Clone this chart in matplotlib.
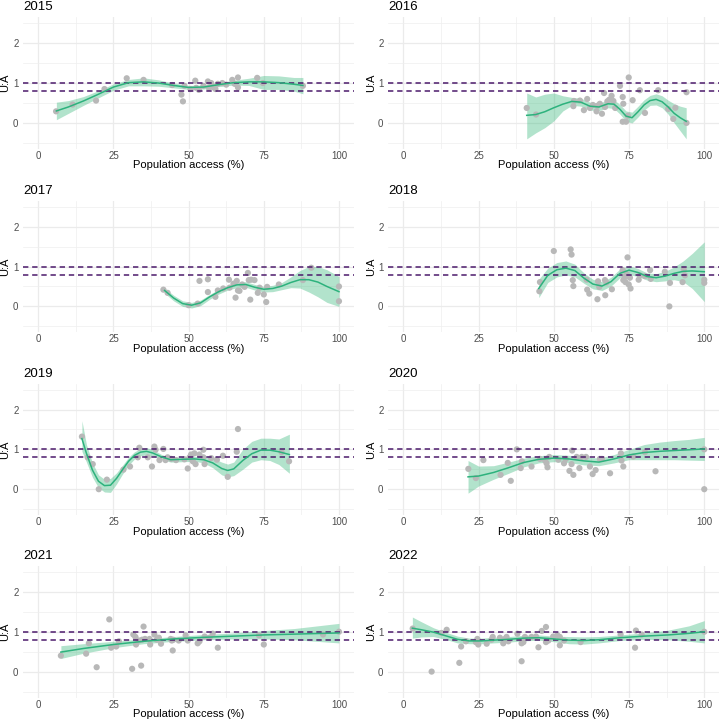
import matplotlib
matplotlib.use('Agg')
import matplotlib.pyplot as plt

plt.rcParams['font.family'] = ['Liberation Sans', 'DejaVu Sans']

years = ['2015', '2016', '2017', '2018', '2019', '2020', '2021', '2022']

# scatter points (population access %, U:A)
px15 = [5.9, 11.4, 19.2, 22, 29.4, 35, 44.5, 47.6, 48.1, 48.6, 50.6, 52.2, 52.5, 53.4, 54.9, 56.4, 56.7, 57.5, 58, 58.9, 59.7, 61.2, 62.5, 64.5, 65.3, 66.4, 66.4, 72.8, 74.7, 88]
py15 = [0.29, 0.46, 0.56, 0.85, 1.12, 1.08, 0.95, 0.71, 0.54, 0.93, 0.85, 1.06, 0.88, 0.83, 0.93, 1.04, 0.88, 1.0, 0.9, 0.85, 0.98, 1.0, 0.96, 1.08, 0.98, 1.14, 0.89, 1.13, 1.0, 0.93]

px16 = [41, 44.1, 56.5, 56.7, 58.7, 60, 61.1, 62, 63, 64.2, 64.5, 65.3, 66, 66.7, 67, 67.8, 68.4, 69.2, 69.8, 70.4, 72, 72.9, 73.1, 72.9, 74, 74.9, 74.6, 76.2, 78.6, 80.3, 84.7, 88, 89.7, 90.4, 94.1, 94.1]
py16 = [0.375, 0.21, 0.42, 0.55, 0.56, 0.32, 0.6, 0.375, 0.45, 0.29, 0.43, 0.48, 0.23, 0.75, 0.4, 0.54, 0.58, 0.68, 0.55, 0.375, 0.93, 0.65, 0.48, 0.03, 0.03, 1.14, 0.18, 0.57, 0.82, 0.25, 0.82, 0.35, 0.1, 0.38, 0.77, 0.0]

px17 = [41.6, 43, 50, 53, 53.6, 56.4, 56.4, 58.9, 59.7, 61.5, 63.4, 63.6, 64.9, 65.6, 66, 66.4, 66.9, 67.8, 68.6, 69.7, 70, 70.5, 70.8, 71.9, 73, 73.6, 75, 75.8, 76.1, 80, 88, 90.8, 100, 100]
py17 = [0.42, 0.34, 0.03, 0.07, 0.64, 0.68, 0.36, 0.24, 0.4, 0.45, 0.67, 0.47, 0.57, 0.22, 0.64, 0.4, 0.39, 0.55, 0.49, 0.84, 0.66, 0.17, 0.67, 0.66, 0.34, 0.47, 0.3, 0.11, 0.49, 0.55, 0.66, 0.97, 0.5, 0.13]

px18 = [45.2, 45.4, 50, 55.6, 55.9, 56.3, 56.5, 60.9, 61.1, 61.8, 64.5, 64.7, 65.1, 67, 67.1, 67.5, 69.3, 72.9, 73.1, 73.6, 73.8, 74.2, 74.5, 74.9, 75.3, 75.5, 78.2, 78.6, 80.3, 82, 82.2, 86.9, 88.4, 88.6, 92.8, 93.2, 93.6, 100, 100]
py18 = [0.38, 0.61, 1.39, 1.43, 1.30, 0.66, 0.51, 0.67, 0.42, 0.32, 0.18, 0.63, 0.49, 0.66, 0.28, 0.6, 0.43, 0.91, 0.66, 0.74, 0.61, 0.81, 1.23, 0.55, 0.72, 0.45, 0.67, 0.78, 0.76, 0.91, 0.69, 0.87, 0.0, 0.59, 0.61, 0.92, 0.78, 0.67, 0.59]

px19 = [14.5, 16.4, 18.1, 20.1, 22.8, 28.3, 30.5, 33.1, 33.6, 36.4, 37.8, 38.6, 39, 40.3, 41.6, 42.3, 43, 44.2, 45.8, 48.6, 49.7, 50.3, 50.8, 51.4, 51.9, 52.3, 53.6, 54.9, 54.9, 55.3, 57.5, 59.4, 61.4, 63, 66, 66.4, 80.9, 83.4]
py19 = [1.32, 0.80, 0.63, 0.0, 0.24, 0.49, 0.57, 0.8, 1.04, 0.8, 0.57, 1.07, 0.99, 0.73, 1.01, 0.73, 0.8, 0.76, 0.73, 0.75, 0.52, 0.8, 0.87, 0.7, 0.9, 0.63, 0.87, 0.8, 0.99, 0.63, 0.78, 0.74, 0.84, 0.31, 0.94, 1.51, 0.93, 0.7]

px20 = [21.6, 24.1, 26.6, 32.3, 34.7, 35.7, 37.7, 39, 39.4, 42.6, 45.4, 47.1, 47.6, 47.9, 48.5, 51.5, 53.4, 54, 55.2, 55.9, 56.1, 56.5, 57.6, 58.5, 59.3, 60.7, 62, 62.9, 63.9, 65.3, 66, 68.7, 72.3, 72.5, 73.1, 76.4, 80.3, 83.8, 100, 100]
py20 = [0.51, 0.28, 0.73, 0.36, 0.66, 0.21, 1.0, 0.53, 0.7, 0.57, 0.76, 0.72, 0.65, 0.55, 0.81, 0.74, 0.65, 0.76, 0.46, 0.63, 0.97, 0.36, 0.81, 0.53, 0.81, 0.81, 0.57, 0.38, 0.48, 0.76, 0.76, 0.4, 0.9, 0.72, 0.57, 0.82, 0.93, 0.45, 1.0, 0.0]

px21 = [7.5, 15.9, 16.8, 19.4, 23.6, 24.2, 25.9, 26.8, 31.2, 31.6, 32.3, 32.5, 33.4, 34.2, 34.5, 35, 35.5, 37, 37.2, 38.6, 39.4, 40.1, 40.8, 44, 44.4, 44.7, 44.9, 46.7, 49, 49.7, 53, 53.6, 55.3, 57, 58, 59.7, 73.4, 75, 94.7, 100]
py21 = [0.40, 0.45, 0.71, 0.11, 1.31, 0.6, 0.63, 0.76, 0.07, 0.93, 0.87, 0.68, 0.78, 0.15, 0.8, 1.13, 0.82, 0.82, 0.68, 0.93, 0.8, 0.85, 0.7, 0.82, 0.78, 0.53, 0.8, 0.78, 0.91, 0.78, 0.71, 0.76, 0.88, 0.85, 0.95, 0.6, 0.91, 0.68, 0.93, 1.0]

px22 = [3.1, 9.4, 12.7, 14.4, 18.6, 19.2, 20.8, 24.1, 24.6, 24.9, 27.7, 29.3, 29.7, 32.1, 33.2, 33.8, 34.3, 34.9, 37.9, 39.3, 39.3, 39.9, 40.4, 42.6, 44.1, 44.9, 46, 47.4, 47.4, 48.2, 49.8, 51.2, 52, 52, 53.4, 58.9, 72.2, 77, 77.3, 79.2, 100]
py22 = [1.08, 0.0, 0.97, 1.05, 0.22, 0.63, 0.76, 0.74, 0.82, 0.68, 0.7, 0.8, 0.87, 0.85, 0.71, 0.82, 0.87, 0.76, 0.95, 0.26, 0.71, 0.74, 0.87, 0.87, 0.88, 0.61, 1.02, 1.12, 0.74, 0.78, 0.88, 0.91, 0.87, 0.66, 0.78, 0.74, 0.93, 0.6, 1.03, 0.93, 1.0]

# smoothed fit and confidence band
cx15 = [6, 10, 15, 20, 25, 30, 35, 40, 45, 50, 55, 60, 65, 70, 75, 80, 85, 88]
cy15 = [0.30, 0.40, 0.55, 0.72, 0.90, 1.01, 1.03, 1.00, 0.94, 0.89, 0.90, 0.96, 1.01, 1.03, 1.03, 1.01, 0.97, 0.94]
lo15 = [0.08, 0.24, 0.44, 0.63, 0.82, 0.93, 0.93, 0.92, 0.88, 0.84, 0.85, 0.91, 0.95, 0.94, 0.84, 0.84, 0.80, 0.73]
hi15 = [0.52, 0.56, 0.66, 0.81, 0.98, 1.09, 1.13, 1.08, 1.00, 0.94, 0.95, 1.01, 1.07, 1.12, 1.19, 1.18, 1.14, 1.14]

cx16 = [41, 44, 47, 50, 53, 56, 59, 62, 65, 68, 70, 72, 74, 76, 78, 80, 82, 84, 86, 88, 90, 92, 94]
cy16 = [0.19, 0.21, 0.28, 0.38, 0.47, 0.54, 0.52, 0.42, 0.40, 0.48, 0.47, 0.34, 0.17, 0.13, 0.28, 0.45, 0.56, 0.59, 0.53, 0.40, 0.24, 0.13, 0.04]
lo16 = [-0.40, -0.25, -0.12, 0.05, 0.30, 0.44, 0.42, 0.32, 0.31, 0.38, 0.36, 0.22, 0.04, 0.00, 0.15, 0.32, 0.44, 0.45, 0.38, 0.22, 0.00, -0.20, -0.40]
hi16 = [0.75, 0.65, 0.72, 0.75, 0.68, 0.64, 0.62, 0.52, 0.49, 0.58, 0.58, 0.46, 0.30, 0.27, 0.42, 0.58, 0.69, 0.73, 0.68, 0.57, 0.48, 0.42, 0.38]

cx17 = [42, 45, 48, 51, 54, 57, 60, 63, 66, 69, 72, 75, 78, 81, 84, 87, 90, 93, 96, 100]
cy17 = [0.40, 0.21, 0.07, 0.03, 0.09, 0.24, 0.37, 0.47, 0.54, 0.55, 0.48, 0.43, 0.45, 0.51, 0.60, 0.67, 0.67, 0.61, 0.50, 0.37]
lo17 = [0.33, 0.14, 0.00, -0.04, 0.02, 0.18, 0.31, 0.41, 0.47, 0.48, 0.41, 0.36, 0.37, 0.42, 0.47, 0.46, 0.36, 0.24, 0.10, 0.00]
hi17 = [0.46, 0.28, 0.14, 0.10, 0.16, 0.30, 0.43, 0.53, 0.61, 0.62, 0.55, 0.50, 0.53, 0.60, 0.74, 0.90, 1.00, 1.00, 0.92, 0.75]

cx18 = [45, 48, 51, 54, 57, 60, 63, 66, 69, 72, 75, 78, 81, 84, 87, 90, 93, 96, 100]
cy18 = [0.45, 0.78, 0.92, 0.96, 0.90, 0.71, 0.56, 0.51, 0.62, 0.83, 0.91, 0.85, 0.75, 0.72, 0.76, 0.83, 0.88, 0.89, 0.87]
lo18 = [0.22, 0.60, 0.74, 0.79, 0.74, 0.58, 0.44, 0.40, 0.51, 0.72, 0.80, 0.75, 0.66, 0.62, 0.64, 0.67, 0.62, 0.45, 0.12]
hi18 = [0.68, 0.96, 1.10, 1.14, 1.06, 0.84, 0.68, 0.62, 0.73, 0.94, 1.02, 0.95, 0.84, 0.82, 0.88, 0.99, 1.14, 1.33, 1.62]

cx19 = [14.5, 16, 18, 20, 22, 24, 26, 28, 30, 32, 34, 36, 38, 41, 44, 48, 52, 55, 58, 61, 63, 65, 68, 71, 74, 77, 80, 83.5]
cy19 = [1.27, 0.90, 0.48, 0.20, 0.09, 0.10, 0.27, 0.49, 0.70, 0.85, 0.93, 0.95, 0.91, 0.81, 0.74, 0.75, 0.76, 0.74, 0.66, 0.52, 0.47, 0.51, 0.72, 0.89, 0.98, 0.98, 0.94, 0.87]
lo19 = [0.95, 0.68, 0.30, 0.04, -0.07, -0.08, 0.13, 0.38, 0.60, 0.76, 0.84, 0.86, 0.83, 0.75, 0.68, 0.69, 0.70, 0.66, 0.54, 0.36, 0.31, 0.34, 0.50, 0.68, 0.74, 0.72, 0.62, 0.40]
hi19 = [1.72, 1.12, 0.66, 0.36, 0.25, 0.27, 0.41, 0.60, 0.80, 0.94, 1.02, 1.04, 1.00, 0.87, 0.80, 0.81, 0.82, 0.82, 0.78, 0.68, 0.63, 0.68, 1.00, 1.20, 1.28, 1.28, 1.26, 1.38]

cx20 = [21.5, 25, 30, 35, 40, 45, 50, 55, 60, 65, 70, 75, 80, 85, 90, 95, 100]
cy20 = [0.31, 0.33, 0.42, 0.54, 0.67, 0.75, 0.78, 0.76, 0.71, 0.68, 0.76, 0.86, 0.92, 0.95, 0.97, 0.99, 1.01]
lo20 = [-0.10, 0.08, 0.25, 0.40, 0.56, 0.66, 0.69, 0.67, 0.61, 0.59, 0.66, 0.74, 0.74, 0.74, 0.74, 0.73, 0.72]
hi20 = [0.72, 0.58, 0.59, 0.68, 0.78, 0.84, 0.87, 0.85, 0.81, 0.78, 0.87, 1.00, 1.12, 1.18, 1.22, 1.25, 1.30]

cx21 = [7.5, 15, 25, 35, 45, 55, 65, 75, 85, 100]
cy21 = [0.49, 0.58, 0.68, 0.76, 0.82, 0.86, 0.89, 0.92, 0.94, 0.97]
lo21 = [0.33, 0.46, 0.60, 0.70, 0.76, 0.80, 0.82, 0.82, 0.80, 0.72]
hi21 = [0.65, 0.70, 0.76, 0.82, 0.88, 0.93, 0.97, 1.03, 1.08, 1.21]

cx22 = [3, 6, 10, 14, 18, 22, 26, 30, 35, 40, 45, 50, 55, 60, 65, 72, 80, 88, 95, 100]
cy22 = [1.09, 1.05, 0.99, 0.90, 0.81, 0.77, 0.77, 0.79, 0.81, 0.84, 0.85, 0.82, 0.79, 0.78, 0.80, 0.85, 0.89, 0.92, 0.96, 1.00]
lo22 = [0.84, 0.87, 0.88, 0.81, 0.72, 0.70, 0.70, 0.72, 0.74, 0.77, 0.79, 0.75, 0.70, 0.69, 0.72, 0.78, 0.81, 0.80, 0.76, 0.72]
hi22 = [1.37, 1.25, 1.10, 0.99, 0.89, 0.84, 0.84, 0.86, 0.88, 0.91, 0.92, 0.89, 0.88, 0.87, 0.88, 0.92, 0.97, 1.04, 1.15, 1.28]

ref_lines = [0.8, 1.0]
x_ticks = [0, 25, 50, 75, 100]
y_ticks = [0, 1, 2]

panels = [
    (px15, py15, cx15, cy15, lo15, hi15),
    (px16, py16, cx16, cy16, lo16, hi16),
    (px17, py17, cx17, cy17, lo17, hi17),
    (px18, py18, cx18, cy18, lo18, hi18),
    (px19, py19, cx19, cy19, lo19, hi19),
    (px20, py20, cx20, cy20, lo20, hi20),
    (px21, py21, cx21, cy21, lo21, hi21),
    (px22, py22, cx22, cy22, lo22, hi22),
]

W = 720.0
col_left = [23.3, 388.3]
col_width = [330.7, 331.0]
row_top = [17.3, 200.8, 383.6, 566.0]
row_h = 131.5
ylab_x = [5.5, 371.0]

fig = plt.figure(figsize=(7.2, 7.2), dpi=100)

for i, (px, py, cx, cy, lo, hi) in enumerate(panels):
    r, c = divmod(i, 2)
    ax = fig.add_axes([col_left[c] / W, 1 - (row_top[r] + row_h) / W,
                       col_width[c] / W, row_h / W])
    for s in ax.spines.values():
        s.set_visible(False)
    ax.set_xlim(-5, 105)
    ax.set_ylim(-0.65, 2.65)
    ax.set_xticks(x_ticks)
    ax.set_yticks(y_ticks)
    ax.set_xticks([12.5, 37.5, 62.5, 87.5], minor=True)
    ax.set_yticks([-0.5, 0.5, 1.5, 2.5], minor=True)
    ax.grid(which='major', color='#EBEBEB', lw=0.9)
    ax.grid(which='minor', color='#EFEFEF', lw=0.5)
    ax.set_axisbelow(True)
    ax.tick_params(which='both', length=0, labelsize=7, labelcolor='#4D4D4D')
    ax.tick_params(axis='x', pad=1.5)
    ax.tick_params(axis='y', pad=3.5)

    ax.fill_between(cx, lo, hi, color='#35B779', alpha=0.38, lw=0, zorder=2)
    ax.scatter(px, py, s=20, color='#B8B8B8', edgecolors='none', zorder=3)
    for y in ref_lines:
        ax.axhline(y, color='#4B1A6B', lw=1.1, ls=(0, (3.5, 2.5)), zorder=4)
    ax.plot(cx, cy, color='#2DB27D', lw=1.1, zorder=5)

    ax.set_title(years[i], loc='left', fontsize=9.5, pad=5)
    ax.set_xlabel('Population access (%)', fontsize=8)
    ax.xaxis.set_label_coords(0.5, -0.125)
    ax.xaxis.label.set_va('center')
    ax.set_ylabel('U:A', fontsize=8)
    ax.yaxis.set_label_coords((ylab_x[c] - col_left[c]) / col_width[c], 0.5)
    ax.yaxis.label.set_va('center')

fig.savefig('out.png', dpi=100)
